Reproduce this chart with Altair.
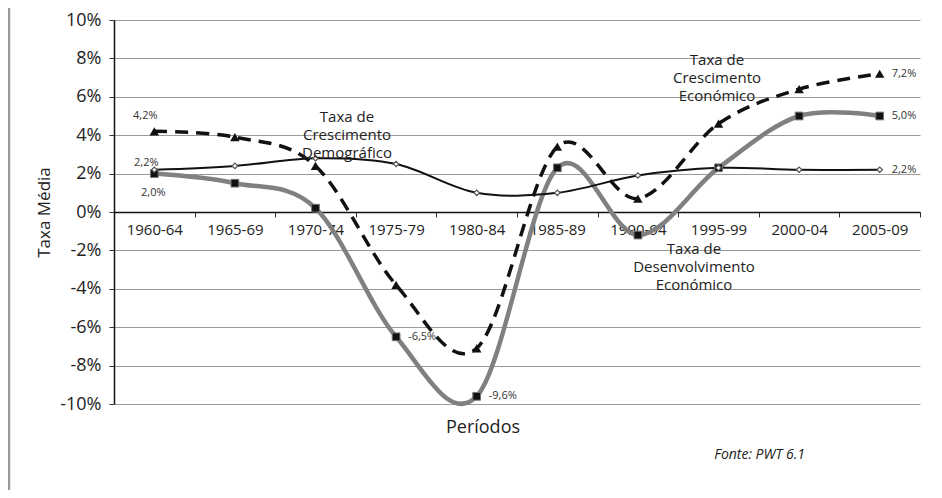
import altair as alt
import pandas as pd

periods = ["1960-64", "1965-69", "1970-74", "1975-79", "1980-84",
           "1985-89", "1990-94", "1995-99", "2000-04", "2005-09"]
crescimento_economico = [4.2, 3.9, 2.4, -3.8, -7.1, 3.4, 0.7, 4.6, 6.4, 7.2]
desenvolvimento_economico = [2.0, 1.5, 0.2, -6.5, -9.6, 2.3, -1.2, 2.3, 5.0, 5.0]
crescimento_demografico = [2.2, 2.4, 2.8, 2.5, 1.0, 1.0, 1.9, 2.3, 2.2, 2.2]
y_ticks = [-10, -8, -6, -4, -2, 0, 2, 4, 6, 8, 10]

# data labels (period, value, text)
labels_above_left = [("1960-64", 4.2, "4,2%")]
labels_left = [("1960-64", 2.2, "2,2%")]
labels_below = [("1960-64", 2.0, "2,0%")]
labels_right = [("1975-79", -6.5, "-6,5%"), ("1980-84", -9.6, "-9,6%"),
                ("2005-09", 7.2, "7,2%"), ("2005-09", 5.0, "5,0%"),
                ("2005-09", 2.2, "2,2%")]

FONT = "Open Sans"

rows = []
for name, vals in [("desenv", desenvolvimento_economico),
                   ("econ", crescimento_economico),
                   ("demo", crescimento_demografico)]:
    for p, v in zip(periods, vals):
        rows.append({"periodo": p, "valor": v, "serie": name})
df = pd.DataFrame(rows)

def lab_df(items):
    return pd.DataFrame([{"periodo": p, "valor": v, "txt": t} for p, v, t in items])

xscale = alt.Scale(type="band", domain=periods, paddingInner=0, paddingOuter=0)
yscale = alt.Scale(domain=[-10, 10], nice=False, zero=False)

X = alt.X("periodo:N", scale=xscale, sort=periods,
          axis=alt.Axis(title=None, labelAngle=0, offset=-192, tickBand="extent",
                        domainColor="#111", domainWidth=1.5, tickColor="#333",
                        tickSize=5, labelPadding=5, labelFontSize=15,
                        labelFont=FONT, labelColor="#222", grid=False,
                        labelOverlap=False))
Y = alt.Y("valor:Q", scale=yscale,
          axis=alt.Axis(values=y_ticks, tickCount=11, labelOverlap=False,
                        labelExpr="datum.value + '%'",
                        title="Taxa Média", titleFont=FONT, titleFontSize=17,
                        titleFontWeight="normal", titleColor="#222", titlePadding=6,
                        labelFont=FONT, labelFontSize=18, labelColor="#222",
                        labelPadding=8, tickSize=5, tickColor="#333",
                        domainColor="#111", domainWidth=1.5,
                        gridColor="#9a9a9a", gridWidth=1))

base = alt.Chart(df).encode(x=X, y=Y)

line_desenv = base.transform_filter("datum.serie == 'desenv'").mark_line(
    interpolate="cardinal", tension=0, color="#808080", strokeWidth=4.5)
line_econ = base.transform_filter("datum.serie == 'econ'").mark_line(
    interpolate="cardinal", tension=0, color="#111111", strokeWidth=3.5,
    strokeDash=[13, 8])
line_demo = base.transform_filter("datum.serie == 'demo'").mark_line(
    interpolate="cardinal", tension=0, color="#111111", strokeWidth=2)

pts_desenv = base.transform_filter("datum.serie == 'desenv'").mark_point(
    shape="square", filled=True, size=60, color="#111", stroke="#777",
    strokeWidth=1, opacity=1)
pts_econ = base.transform_filter("datum.serie == 'econ'").mark_point(
    shape="triangle-up", filled=True, size=90, color="#111", opacity=1)
pts_demo = base.transform_filter("datum.serie == 'demo'").mark_point(
    shape="diamond", filled=True, size=30, fill="white", stroke="#555",
    strokeWidth=1.2, opacity=1)

def text_layer(items, **kw):
    return alt.Chart(lab_df(items)).mark_text(
        font=FONT, fontSize=11, color="#333", **kw).encode(
        x=X, y=Y, text="txt:N")

t1 = text_layer(labels_above_left, dx=-9, dy=-15)
t2 = text_layer(labels_left, dx=-8, dy=-7)
t3 = text_layer(labels_below, dx=-1, dy=19)
t4 = text_layer(labels_right, align="left", dx=12, dy=0)

def note(lines, x, y, size=15, align="center", style="normal", lh=18):
    return alt.Chart(pd.DataFrame({"a": [0]})).mark_text(
        text=lines, font=FONT, fontSize=size, align=align, baseline="middle",
        lineHeight=lh, fontStyle=style, color="#222").encode(
        x=alt.value(x), y=alt.value(y))

n_demo = note(["Taxa de", "Crescimento", "Demográfico"], 233, 97)
n_econ = note(["Taxa de", "Crescimento", "Económico"], 603, 40)
n_desenv = note(["Taxa de", "Desenvolvimento", "Económico"], 580, 229)
n_periodos = note("Períodos", 369, 408, size=18)
n_fonte = note("Fonte: PWT 6.1", 691, 435, size=14, align="right", style="italic")

frame = alt.Chart(pd.DataFrame({"a": [0]})).mark_rule(
    color="#9a9a9a", strokeWidth=2.5).encode(
    x=alt.value(-105), y=alt.value(-12), y2=alt.value(470))

chart = alt.layer(
    line_desenv, line_econ, line_demo, pts_desenv, pts_econ, pts_demo,
    t1, t2, t3, t4, n_demo, n_econ, n_desenv, n_periodos, n_fonte, frame
).properties(
    width=806, height=384, autosize="none",
    padding={"left": 106, "top": 12, "right": 14, "bottom": 86},
    background="white"
).configure_view(strokeWidth=0)

chart.save("out.html", embed_options={"renderer": "svg", "actions": False})
